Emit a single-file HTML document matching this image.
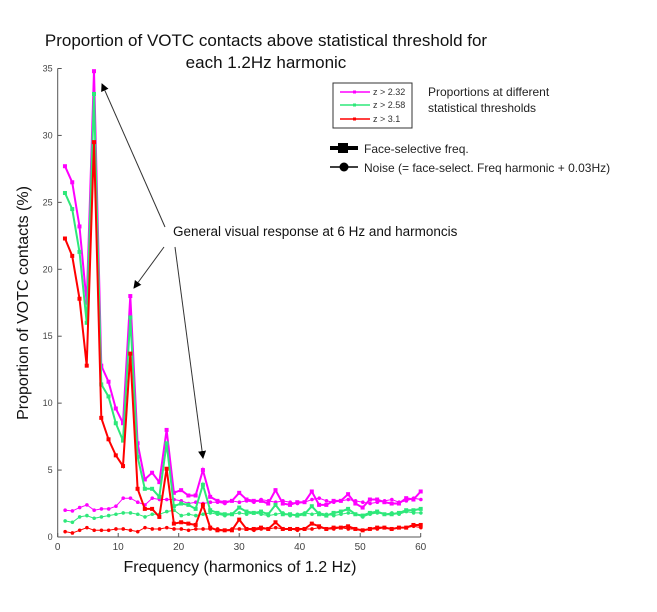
<!DOCTYPE html>
<html><head><meta charset="utf-8"><style>
body{margin:0;background:#fff;}
svg{display:block;font-family:"Liberation Sans",sans-serif;}
</style></head><body>
<svg id="c" width="657" height="612" viewBox="0 0 657 612">
<text x="266" y="46" font-size="17" text-anchor="middle" fill="#111">Proportion of VOTC contacts above statistical threshold for</text>
<text x="266" y="68" font-size="17" text-anchor="middle" fill="#111">each 1.2Hz harmonic</text>
<text transform="translate(28,303) rotate(-90)" font-size="16" text-anchor="middle" fill="#111">Proportion of VOTC contacts (%)</text>
<text x="240" y="572" font-size="16" text-anchor="middle" fill="#111">Frequency (harmonics of 1.2 Hz)</text>
<g id="axes"></g>
<g id="series"></g>
<g>
<defs><marker id="ah" markerWidth="8" markerHeight="8" refX="7" refY="4" orient="auto"><path d="M0,0 L8,4 L0,8 z" fill="#000"/></marker></defs>
<line x1="165" y1="227" x2="102" y2="84" stroke="#333" stroke-width="1" marker-end="url(#ah)"/>
<line x1="164" y1="247" x2="134" y2="288" stroke="#333" stroke-width="1" marker-end="url(#ah)"/>
<line x1="175" y1="247" x2="203" y2="458" stroke="#333" stroke-width="1" marker-end="url(#ah)"/>
<text x="173" y="236" font-size="13.5" fill="#111">General visual response at 6 Hz and harmoncis</text>
</g>
<g>
<rect x="333" y="83" width="79" height="45" fill="#fff" stroke="#333" stroke-width="1"/>
<g><line x1="340" y1="92" x2="370" y2="92" stroke="#f0f" stroke-width="1.5"/><rect x="353" y="90.5" width="3" height="3" fill="#f0f"/><text x="373" y="95" font-size="9" fill="#333">z &gt; 2.32</text></g>
<g><line x1="340" y1="105" x2="370" y2="105" stroke="#2ee87a" stroke-width="1.5"/><rect x="353" y="103.5" width="3" height="3" fill="#2ee87a"/><text x="373" y="108" font-size="9" fill="#333">z &gt; 2.58</text></g>
<g><line x1="340" y1="119" x2="370" y2="119" stroke="#f00" stroke-width="1.5"/><rect x="353" y="117.5" width="3" height="3" fill="#f00"/><text x="373" y="122" font-size="9" fill="#333">z &gt; 3.1</text></g>
<text x="428" y="96" font-size="12" fill="#222">Proportions at different</text>
<text x="428" y="112" font-size="12" fill="#222">statistical thresholds</text>
<g><line x1="330" y1="148" x2="358" y2="148" stroke="#000" stroke-width="4"/><rect x="338" y="143" width="10" height="10" fill="#000"/><text x="364" y="153" font-size="12" fill="#222">Face-selective freq.</text></g>
<g><line x1="330" y1="167" x2="358" y2="167" stroke="#000" stroke-width="1.5"/><circle cx="344" cy="167" r="4.5" fill="#000"/><text x="364" y="172" font-size="12" fill="#222">Noise (= face-select. Freq harmonic + 0.03Hz)</text></g>
</g>
</svg>
<script>
const harmonics = Array.from({length:50},(_, i)=>i+1);
const faceZ232 = [27.7,26.5,23.2,17.5,34.8,12.8,11.6,9.6,8.5,18,7,4.3,4.8,4.1,8,3.3,3.5,3.1,3.1,5.0,3.0,2.7,2.6,2.7,3.3,2.8,2.7,2.7,2.5,3.5,2.5,2.4,2.6,2.6,3.4,2.4,2.4,2.7,2.7,3.2,2.5,2.2,2.8,2.8,2.6,2.5,2.5,2.9,2.8,3.4];
const faceZ258 = [25.7,24.5,21.3,16,33.1,11.4,10.5,8.5,7.2,16.4,6,3.6,3.6,3.0,7.0,2.3,2.5,2.4,2.1,3.9,2.0,1.8,1.7,1.7,2.2,1.9,1.8,1.9,1.7,2.4,1.7,1.7,1.6,1.7,2.3,1.7,1.6,1.8,1.9,2.1,1.7,1.6,1.8,1.9,1.7,1.7,1.8,2.0,2.0,2.1];
const faceZ31 = [22.3,21,17.8,12.8,29.5,8.9,7.3,6.1,5.3,13.7,3.6,2.1,2.1,1.5,5.1,1.0,1.1,1.0,0.9,2.4,0.7,0.5,0.5,0.5,1.3,0.6,0.6,0.7,0.6,1.1,0.6,0.6,0.6,0.6,1.0,0.8,0.6,0.7,0.7,0.8,0.6,0.5,0.6,0.7,0.7,0.6,0.7,0.7,0.9,0.9];
const noiseZ232 = [2.0,1.95,2.2,2.4,2.0,2.1,2.1,2.3,2.9,2.9,2.6,2.4,2.9,2.8,2.8,2.8,2.7,2.5,2.6,2.5,2.6,2.6,2.5,2.7,2.6,2.7,2.6,2.8,2.7,2.6,2.7,2.6,2.5,2.6,2.8,2.9,2.7,2.6,2.7,2.8,2.7,2.6,2.5,2.6,2.7,2.8,2.6,2.7,2.9,2.8];
const noiseZ258 = [1.2,1.1,1.5,1.6,1.4,1.5,1.6,1.7,1.8,1.8,1.7,1.5,1.7,1.7,1.9,2.0,1.6,1.7,1.6,1.7,1.8,1.7,1.6,1.7,1.8,1.7,1.8,1.7,1.6,1.7,1.8,1.6,1.7,1.8,1.7,1.8,1.7,1.6,1.7,1.8,1.7,1.5,1.7,1.8,1.7,1.8,1.7,1.9,1.8,1.8];
const noiseZ31 = [0.4,0.3,0.5,0.7,0.5,0.5,0.5,0.6,0.6,0.5,0.4,0.7,0.6,0.6,0.7,0.6,0.6,0.5,0.6,0.6,0.6,0.6,0.5,0.6,0.6,0.6,0.5,0.6,0.6,0.7,0.6,0.6,0.5,0.6,0.6,0.7,0.6,0.6,0.7,0.6,0.6,0.5,0.6,0.6,0.7,0.6,0.7,0.7,0.8,0.7];
const xTicks = [0,10,20,30,40,50,60];
const yTicks = [0,5,10,15,20,25,30,35];

const NS='http://www.w3.org/2000/svg';
const X0=57.7,X1=420.7,Y0=537,Y1=68.5;
function xs(f){return X0+(f/60)*(X1-X0);}
function ys(v){return Y0-(v/35)*(Y0-Y1);}
function mk(tag,attrs,parent){const e=document.createElementNS(NS,tag);for(const k in attrs)e.setAttribute(k,attrs[k]);parent.appendChild(e);return e;}
const axes=document.getElementById('axes');
let a=mk('line',{x1:X0,y1:Y0,x2:X1,y2:Y0,stroke:'#555','stroke-width':1},axes);


a=mk('line',{x1:X0,y1:Y0,x2:X0,y2:Y1,stroke:'#555','stroke-width':1},axes);


xTicks.forEach(t=>{const x=xs(t);
 mk('line',{x1:x,y1:Y0,x2:x,y2:Y0-4,stroke:'#555'},axes);
 const tx=mk('text',{x:x,y:Y0+13,'font-size':10,'text-anchor':'middle',fill:'#444'},axes);tx.textContent=t;
 
 });
yTicks.forEach(t=>{const y=ys(t);
 mk('line',{x1:X0,y1:y,x2:X0+4,y2:y,stroke:'#555'},axes);
 const tx=mk('text',{x:X0-5,y:y+3,'font-size':9,'text-anchor':'end',fill:'#444'},axes);tx.textContent=t;
 
 });
const ser=document.getElementById('series');
function draw(vals,color,face,name){
 const g=mk('g',{},ser);
 
 
 const pts=vals.map((v,i)=>xs(harmonics[i]*1.2+(face?0:0.03)).toFixed(1)+','+ys(v).toFixed(1)).join(' ');
 mk('polyline',{points:pts,fill:'none',stroke:color,'stroke-width':face?2:1},g);
 vals.forEach((v,i)=>{const x=xs(harmonics[i]*1.2+(face?0:0.03)),y=ys(v);
  let m;
  if(face)m=mk('rect',{x:x-2,y:y-2,width:4,height:4,fill:color},g);
  else m=mk('circle',{cx:x,cy:y,r:1.8,fill:color},g);
  
  });
}
draw(noiseZ232,'#f0f',false,'series-noise-z232');
draw(noiseZ258,'#2ee87a',false,'series-noise-z258');
draw(noiseZ31,'#f00',false,'series-noise-z31');
draw(faceZ232,'#f0f',true,'series-face-z232');
draw(faceZ258,'#2ee87a',true,'series-face-z258');
draw(faceZ31,'#f00',true,'series-face-z31');
</script>
</body></html>
